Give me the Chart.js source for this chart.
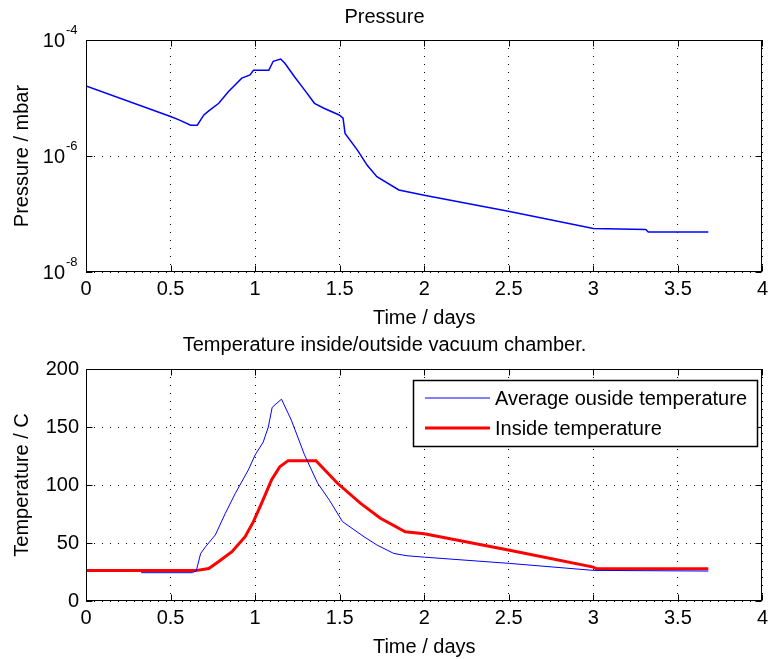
<!DOCTYPE html>
<html><head><meta charset="utf-8">
<script src="https://cdn.jsdelivr.net/npm/chart.js@4/dist/chart.umd.min.js"></script>
<style>
html,body{margin:0;padding:0;background:#fff;}
#wrap{position:relative;width:773px;height:659px;background:#fff;}
canvas{position:absolute;left:0;}
</style></head><body>
<div id="wrap">
<canvas id="c1" width="773" height="330" style="top:0px"></canvas>
<canvas id="c2" width="773" height="329" style="top:330px"></canvas>
</div>
<script>
// ---------- data ----------
const timeTicks = [0, 0.5, 1, 1.5, 2, 2.5, 3, 3.5, 4];
const timeTickLabels = ['0', '0.5', '1', '1.5', '2', '2.5', '3', '3.5', '4'];

const pressureTime = [0, 0.5, 0.55, 0.619, 0.658, 0.697, 0.726, 0.785, 0.843, 0.921, 0.97, 0.99, 1.081, 1.107, 1.151, 1.175, 1.234, 1.292, 1.351, 1.41, 1.497, 1.52, 1.532, 1.605, 1.663, 1.72, 1.85, 2.0, 2.505, 3.0, 3.31, 3.325, 3.68];
const pressureValues = [1.62e-5, 4.8e-6, 4.2e-6, 3.4e-6, 3.4e-6, 5.1e-6, 6.0e-6, 8.1e-6, 1.29e-5, 2.2e-5, 2.5e-5, 3.0e-5, 3.0e-5, 4.3e-5, 4.7e-5, 4.0e-5, 2.3e-5, 1.38e-5, 8.1e-6, 6.6e-6, 5.1e-6, 4.5e-6, 2.45e-6, 1.26e-6, 6.9e-7, 4.4e-7, 2.6e-7, 2.1e-7, 1.1e-7, 5.6e-8, 5.4e-8, 4.9e-8, 4.9e-8];
const pressureTickExponents = [-8, -6, -4];

const outsideTime = [0.326, 0.629, 0.652, 0.678, 0.707, 0.765, 0.824, 0.883, 0.96, 1.0, 1.048, 1.078, 1.101, 1.156, 1.214, 1.292, 1.37, 1.439, 1.517, 1.644, 1.72, 1.82, 1.898, 2.0, 2.505, 3.0, 3.68];
const outsideTemp = [24.4, 24.4, 26, 41, 46.8, 57, 75.6, 92.8, 113, 125.9, 137, 150, 167, 174, 156, 126, 101.5, 87, 68.4, 55.4, 48.3, 41, 39, 37.8, 32.4, 26.4, 25.8];

const insideTime = [0, 0.648, 0.726, 0.785, 0.863, 0.941, 0.99, 1.038, 1.097, 1.146, 1.195, 1.36, 1.487, 1.624, 1.741, 1.888, 2.0, 2.505, 3.0, 3.02, 3.68];
const insideTemp = [26.2, 26.2, 28, 34, 42.5, 55.4, 68.4, 84.2, 104.3, 115.8, 121, 121, 101.5, 84.2, 71.3, 59.7, 58, 43.8, 29.2, 27.8, 27.8];

const tempTicks = [0, 50, 100, 150, 200];
const seriesLabels = ['Average ouside temperature', 'Inside temperature'];

// ---------- helpers ----------
const FONT = "'Liberation Sans', Arial, Helvetica, sans-serif";
const pts = (xs, ys) => xs.map((v, i) => ({x: v, y: ys[i]}));

const framePlugin = {
  id: 'frame',
  afterDatasetsDraw(chart) {
    const {ctx, chartArea: a, scales: {x, y}} = chart;
    const l = Math.round(a.left) + 0.5, r = Math.round(a.right) - 0.5;
    const t = Math.round(a.top) + 0.5, b = Math.round(a.bottom) - 0.5;
    ctx.save();
    ctx.setLineDash([]);
    ctx.strokeStyle = '#000';
    ctx.lineWidth = 1;
    ctx.strokeRect(l, t, r - l, b - t);
    const L = 6;
    ctx.beginPath();
    x.ticks.forEach(tk => {
      const px = Math.round(x.getPixelForValue(tk.value)) + 0.5;
      ctx.moveTo(px, b); ctx.lineTo(px, b - L);
      ctx.moveTo(px, t); ctx.lineTo(px, t + L);
    });
    y.ticks.forEach(tk => {
      const py = Math.round(y.getPixelForValue(tk.value)) + 0.5;
      ctx.moveTo(l, py); ctx.lineTo(l + L, py);
      ctx.moveTo(r, py); ctx.lineTo(r - L, py);
    });
    ctx.stroke();
    ctx.restore();
  }
};

const gridOpts = {color: '#000', lineWidth: 1, drawTicks: false, tickLength: 0};
const borderOpts = {display: false, dash: [1, 7]};

function xAxis() {
  return {
    type: 'linear', min: 0, max: 4,
    afterBuildTicks: s => { s.ticks = timeTicks.map(v => ({value: v})); },
    ticks: {color: '#000', font: {family: FONT, size: 20}, padding: 5, maxRotation: 0,
            callback: (v, i) => timeTickLabels[i]},
    grid: gridOpts, border: borderOpts,
    title: {display: true, text: 'Time / days', color: '#000', font: {family: FONT, size: 20}, padding: {top: 2, bottom: 0}},
    afterFit: s => { s.height = 58; }
  };
}

// ---------- pressure chart ----------
const supLabels = {
  id: 'supLabels',
  afterDraw(chart) {
    const {ctx, scales: {y}} = chart;
    ctx.save();
    ctx.fillStyle = '#000';
    ctx.textBaseline = 'middle';
    pressureTickExponents.forEach(e => {
      const py = y.getPixelForValue(Math.pow(10, e));
      ctx.font = '20px ' + FONT;
      ctx.textAlign = 'right';
      ctx.fillText('10', 65, py + 1);
      ctx.font = '13px ' + FONT;
      ctx.textAlign = 'left';
      ctx.fillText('-' + Math.abs(e), 66, py - 10);
    });
    ctx.restore();
  }
};

new Chart(document.getElementById('c1'), {
  type: 'line',
  data: {datasets: [{
    label: 'Pressure', data: pts(pressureTime, pressureValues),
    borderColor: '#0000ff', borderWidth: 1.5, pointRadius: 0, tension: 0, fill: false
  }]},
  options: {
    responsive: false, animation: false, devicePixelRatio: 1,
    layout: {padding: {left: 0, right: 4, top: 0, bottom: 0}},
    plugins: {
      legend: {display: false}, tooltip: {enabled: false},
      title: {display: true, text: 'Pressure', color: '#000', font: {family: FONT, size: 20, weight: 'normal'}, padding: {top: 5, bottom: 11}}
    },
    scales: {
      x: xAxis(),
      y: {
        type: 'logarithmic', min: 1e-8, max: 1e-4,
        afterBuildTicks: s => { s.ticks = pressureTickExponents.map(e => ({value: Math.pow(10, e)})); },
        ticks: {callback: () => '', padding: 7},
        grid: gridOpts, border: borderOpts,
        title: {display: true, text: 'Pressure / mbar', color: '#000', font: {family: FONT, size: 20}, padding: {top: 10, bottom: 0}},
        afterFit: s => { s.width = 86; }
      }
    }
  },
  plugins: [framePlugin, supLabels]
});

// ---------- temperature chart ----------
const boxLegend = {
  id: 'boxLegend',
  afterDraw(chart) {
    const {ctx} = chart;
    const bx = 413.5, by = 50.5, bw = 344, bh = 66;
    ctx.save();
    ctx.fillStyle = '#fff';
    ctx.fillRect(bx, by, bw, bh);
    ctx.strokeStyle = '#000'; ctx.lineWidth = 1.5; ctx.setLineDash([]);
    ctx.strokeRect(bx, by, bw, bh);
    const rows = [68, 98];
    chart.data.datasets.forEach((ds, i) => {
      ctx.strokeStyle = ds.borderColor; ctx.lineWidth = ds.borderWidth;
      ctx.beginPath(); ctx.moveTo(425, rows[i]); ctx.lineTo(490, rows[i]); ctx.stroke();
      ctx.fillStyle = '#000';
      ctx.font = '20px ' + FONT;
      ctx.textAlign = 'left'; ctx.textBaseline = 'middle';
      ctx.fillText(ds.label, 495, rows[i] + 1);
    });
    ctx.restore();
  }
};

new Chart(document.getElementById('c2'), {
  type: 'line',
  data: {datasets: [
    {label: seriesLabels[0], data: pts(outsideTime, outsideTemp), borderColor: '#0000ff', borderWidth: 1, pointRadius: 0, tension: 0, fill: false},
    {label: seriesLabels[1], data: pts(insideTime, insideTemp), borderColor: '#ff0000', borderWidth: 3, pointRadius: 0, tension: 0, fill: false}
  ]},
  options: {
    responsive: false, animation: false, devicePixelRatio: 1,
    layout: {padding: {left: 0, right: 4, top: 0, bottom: 0}},
    plugins: {
      legend: {display: false}, tooltip: {enabled: false},
      title: {display: true, text: 'Temperature inside/outside vacuum chamber.', color: '#000', font: {family: FONT, size: 20, weight: 'normal'}, padding: {top: 3, bottom: 12}}
    },
    scales: {
      x: xAxis(),
      y: {
        type: 'linear', min: 0, max: 200,
        afterBuildTicks: s => { s.ticks = tempTicks.map(v => ({value: v})); },
        ticks: {color: '#000', font: {family: FONT, size: 20}, padding: 7, callback: v => String(v)},
        grid: gridOpts, border: borderOpts,
        title: {display: true, text: 'Temperature / C', color: '#000', font: {family: FONT, size: 20}, padding: {top: 10, bottom: 0}},
        afterFit: s => { s.width = 86; }
      }
    }
  },
  plugins: [framePlugin, boxLegend]
});
</script>
</body></html>
